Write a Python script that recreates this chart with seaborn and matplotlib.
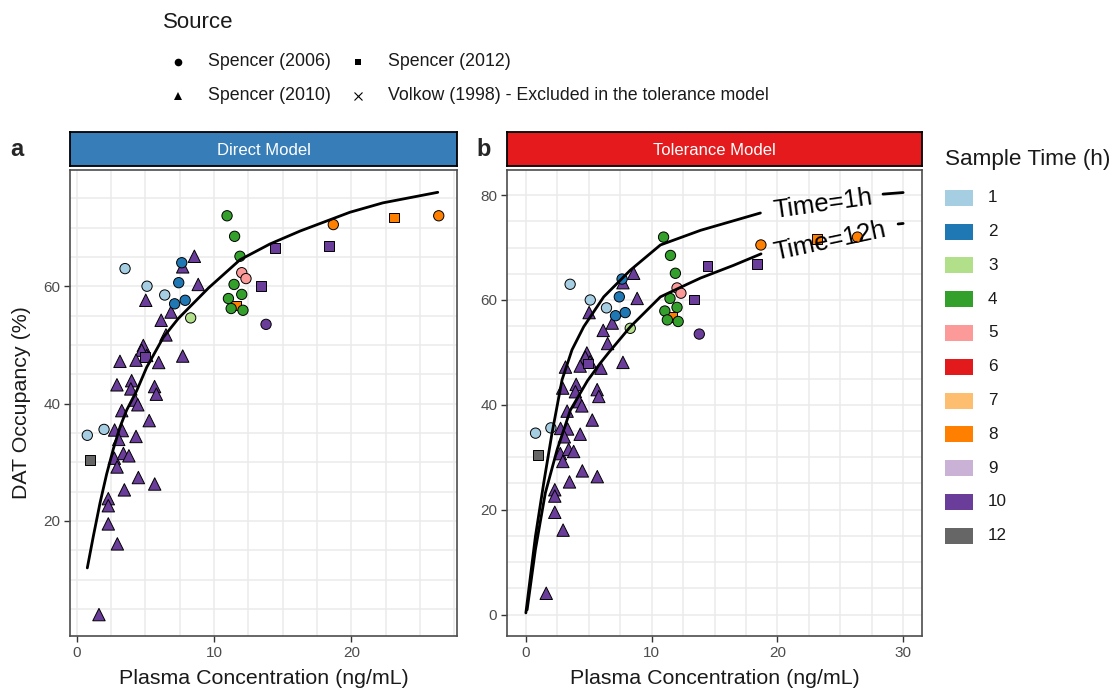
import numpy as np
import pandas as pd
import matplotlib
matplotlib.use("Agg")
import matplotlib.pyplot as plt
import seaborn as sns
from matplotlib.lines import Line2D
from matplotlib.patches import Rectangle
from matplotlib.ticker import MultipleLocator, FixedLocator

# ---------------- data ----------------
# Spencer (2006) - circles
s2006_conc = [3.52, 5.12, 6.41, 0.77, 1.99, 7.65, 7.43, 7.13, 7.90, 8.30,
              10.95, 11.50, 11.89, 11.46, 12.02, 11.05, 11.25, 12.11,
              12.02, 12.33, 18.69, 26.37, 13.79]
s2006_occ = [63.0, 60.0, 58.5, 34.6, 35.6, 64.0, 60.6, 57.0, 57.6, 54.6,
             72.0, 68.5, 65.1, 60.3, 58.6, 57.9, 56.2, 55.9,
             62.3, 61.3, 70.5, 72.0, 53.5]
s2006_time = [1, 1, 1, 1, 1, 2, 2, 2, 2, 3,
              4, 4, 4, 4, 4, 4, 4, 4,
              5, 5, 8, 8, 10]

# Spencer (2010) - triangles
s2010_conc = [8.57, 7.72, 8.85, 5.03, 6.87, 6.15, 6.50, 7.72, 4.85, 4.73,
              5.10, 3.15, 4.32, 5.97, 2.93, 4.00, 3.94, 5.67, 5.80, 4.25,
              4.45, 3.28, 5.28, 2.76, 3.32, 3.06, 4.32, 2.74, 3.40, 3.80,
              2.94, 4.49, 5.68, 3.47, 2.30, 2.30, 2.30, 2.96, 1.62]
s2010_occ = [65.1, 63.3, 60.3, 57.6, 55.6, 54.2, 51.7, 48.1, 49.9, 49.1,
             48.2, 47.2, 47.4, 47.0, 43.2, 43.9, 42.5, 42.9, 41.6, 40.6,
             39.8, 38.8, 37.1, 35.5, 35.4, 33.9, 34.4, 30.7, 31.5, 31.1,
             29.2, 27.4, 26.3, 25.3, 23.8, 22.6, 19.5, 16.1, 4.05]
s2010_time = [10] * len(s2010_conc)

# Spencer (2012) - squares
s2012_conc = [0.97, 13.40, 14.44, 18.35, 23.13, 11.62, 4.95]
s2012_occ = [30.4, 60.1, 66.5, 66.8, 71.7, 56.7, 47.9]
s2012_time = [12, 10, 10, 10, 8, 8, 10]

# Model predictions
direct_conc = [0.77, 1.21, 1.70, 2.18, 2.67, 3.15, 3.64, 4.37, 5.10, 6.31,
               7.40, 9.60, 11.89, 14.08, 16.27, 19.9, 22.3, 26.3]
direct_occ = [12.0, 17.4, 23.1, 28.0, 32.3, 36.0, 38.9, 42.2, 46.2, 51.3,
              54.5, 59.7, 64.5, 67.2, 69.4, 72.6, 74.2, 76.0]

tol1_conc_a = [0.0, 0.76, 1.42, 2.08, 2.88, 3.67, 4.6, 6.19, 8.31, 10.7, 13.9, 18.65]
tol1_occ_a = [0.3, 14.9, 25.1, 34.6, 44.8, 50.5, 54.9, 60.6, 65.7, 70.5, 73.3, 76.6]
tol1_conc_b = [28.4, 30.0]
tol1_occ_b = [80.2, 80.5]

tol12_conc_a = [0.1, 0.76, 1.55, 2.48, 3.54, 4.9, 5.9, 6.6, 8.31, 10.7, 12.82, 13.9, 16.5, 18.7]
tol12_occ_a = [0.9, 12.4, 23.2, 31.4, 39.0, 44.6, 47.9, 50.0, 54.9, 60.6, 63.0, 64.2, 66.6, 68.8]
tol12_conc_b = [29.6, 30.0]
tol12_occ_b = [74.5, 74.6]

time_levels = [1, 2, 3, 4, 5, 6, 7, 8, 9, 10, 12]
time_colors = ["#A6CEE3", "#1F78B4", "#B2DF8A", "#33A02C", "#FB9A99", "#E31A1C",
               "#FDBF6F", "#FF7F00", "#CAB2D6", "#6A3D9A", "#666666"]
palette = dict(zip(time_levels, time_colors))

source_names = ["Spencer (2006)", "Spencer (2012)", "Spencer (2010)",
                "Volkow (1998) - Excluded in the tolerance model"]

df = pd.concat([
    pd.DataFrame({"conc": s2010_conc, "occ": s2010_occ, "time": s2010_time, "source": "Spencer (2010)"}),
    pd.DataFrame({"conc": s2012_conc, "occ": s2012_occ, "time": s2012_time, "source": "Spencer (2012)"}),
    pd.DataFrame({"conc": s2006_conc, "occ": s2006_occ, "time": s2006_time, "source": "Spencer (2006)"}),
], ignore_index=True)

# ---------------- figure ----------------
sns.set_theme(style="white")
plt.rcParams["font.family"] = ["Liberation Sans", "DejaVu Sans"]

W, H = 1115, 690
fig = plt.figure(figsize=(W / 100, H / 100), dpi=100)


def fx(px):
    return px / W


def fy(py):
    return 1 - py / H


def box(x0, y0, x1, y1):
    return [fx(x0), fy(y1), (x1 - x0) / W, (y1 - y0) / H]


axL = fig.add_axes(box(70, 170, 457, 636))
axR = fig.add_axes(box(507, 170, 922, 636))

marker_spec = {"Spencer (2010)": ("^", 80), "Spencer (2012)": ("s", 50), "Spencer (2006)": ("o", 55)}

for ax in (axL, axR):
    for src in ["Spencer (2010)", "Spencer (2012)", "Spencer (2006)"]:
        sub = df[df["source"] == src]
        m, s = marker_spec[src]
        sns.scatterplot(data=sub, x="conc", y="occ", hue="time", palette=palette,
                        marker=m, s=s, edgecolor="black", linewidth=0.7,
                        legend=False, ax=ax, zorder=3)

line_kw = dict(color="black", linewidth=2.0, sort=False, estimator=None, zorder=4)
sns.lineplot(x=direct_conc, y=direct_occ, ax=axL, **line_kw)
sns.lineplot(x=tol1_conc_a, y=tol1_occ_a, ax=axR, **line_kw)
sns.lineplot(x=tol1_conc_b, y=tol1_occ_b, ax=axR, **line_kw)
sns.lineplot(x=tol12_conc_a, y=tol12_occ_a, ax=axR, **line_kw)
sns.lineplot(x=tol12_conc_b, y=tol12_occ_b, ax=axR, **line_kw)

axR.text(23.6, 78.3, "Time=1h", rotation=8, rotation_mode="anchor",
         ha="center", va="center", fontsize=18.5, color="black", zorder=5)
axR.text(24.2, 71.2, "Time=12h", rotation=12, rotation_mode="anchor",
         ha="center", va="center", fontsize=18.5, color="black", zorder=5)

axL.set_xlim(-0.49, 27.7)
axL.set_ylim(0.4, 79.8)
axR.set_xlim(-1.5, 31.5)
axR.set_ylim(-4.1, 84.8)

axL.xaxis.set_major_locator(FixedLocator([0, 10, 20]))
axL.yaxis.set_major_locator(FixedLocator([20, 40, 60]))
axR.xaxis.set_major_locator(FixedLocator([0, 10, 20, 30]))
axR.yaxis.set_major_locator(FixedLocator([0, 20, 40, 60, 80]))

for ax in (axL, axR):
    ax.set_facecolor("white")
    ax.xaxis.set_minor_locator(MultipleLocator(2.5))
    ax.yaxis.set_minor_locator(MultipleLocator(5))
    ax.grid(True, which="both", color="#EBEBEB", linewidth=1.1, zorder=0)
    ax.set_axisbelow(True)
    ax.tick_params(which="minor", length=0)
    ax.tick_params(which="major", direction="out", length=4, width=1.0,
                   color="#333333", labelcolor="#4D4D4D", labelsize=11, pad=3,
                   bottom=True, left=True)
    for sp in ax.spines.values():
        sp.set_color("#4D4D4D")
        sp.set_linewidth(1.2)
    ax.set_xlabel("")
    ax.set_ylabel("")

# strips
for (x0, x1), label, color in [((70, 457), "Direct Model", "#377EB8"),
                               ((507, 922), "Tolerance Model", "#E41A1C")]:
    sax = fig.add_axes(box(x0, 132, x1, 166))
    sax.set_facecolor(color)
    sax.set_xticks([])
    sax.set_yticks([])
    for sp in sax.spines.values():
        sp.set_color("black")
        sp.set_linewidth(1.3)
    sax.text(0.5, 0.47, label, transform=sax.transAxes, ha="center", va="center",
             color="white", fontsize=12)

fig.text(fx(10), fy(150), "a", fontsize=17, fontweight="bold", va="center", ha="left")
fig.text(fx(476), fy(150), "b", fontsize=17, fontweight="bold", va="center", ha="left")

# axis titles
fig.text(fx((70 + 457) / 2), fy(679), "Plasma Concentration (ng/mL)", ha="center", va="center",
         fontsize=15.4, color="#1A1A1A")
fig.text(fx((507 + 922) / 2), fy(679), "Plasma Concentration (ng/mL)", ha="center", va="center",
         fontsize=15.4, color="#1A1A1A")
fig.text(fx(22), fy(403), "DAT Occupancy (%)", rotation=90, ha="center", va="center",
         fontsize=15.4, color="#1A1A1A")

# source legend (shapes)
fig.text(fx(163), fy(22), "Source", fontsize=16, ha="left", va="center", color="#1A1A1A")
shape_entries = [(178, 62, "o", source_names[0]), (358, 62, "s", source_names[1]),
                 (178, 96, "^", source_names[2]), (358, 96, "x", source_names[3])]
for px, py, mk, txt in shape_entries:
    fig.add_artist(Line2D([fx(px)], [fy(py)], transform=fig.transFigure, marker=mk,
                          markersize={"o": 5.5, "s": 5, "^": 6, "x": 6}[mk], color="black",
                          markeredgewidth=0.8 if mk == "x" else 0.0, linestyle="none"))
    fig.text(fx(px + 30), fy(py), txt, fontsize=12.8, ha="left", va="center", color="#1A1A1A")

# colour legend
fig.text(fx(945), fy(160), "Sample Time (h)", fontsize=16.2, ha="left", va="center", color="#1A1A1A")
for i, (lvl, col) in enumerate(zip(time_levels, time_colors)):
    cy = 197.7 + i * 33.8
    fig.add_artist(Rectangle((fx(945), fy(cy + 8)), 28 / W, 16 / H, transform=fig.transFigure,
                             facecolor=col, edgecolor="none"))
    fig.text(fx(988), fy(cy), str(lvl), fontsize=12.3, ha="left", va="center", color="#1A1A1A")

fig.savefig("out.png", dpi=100)
